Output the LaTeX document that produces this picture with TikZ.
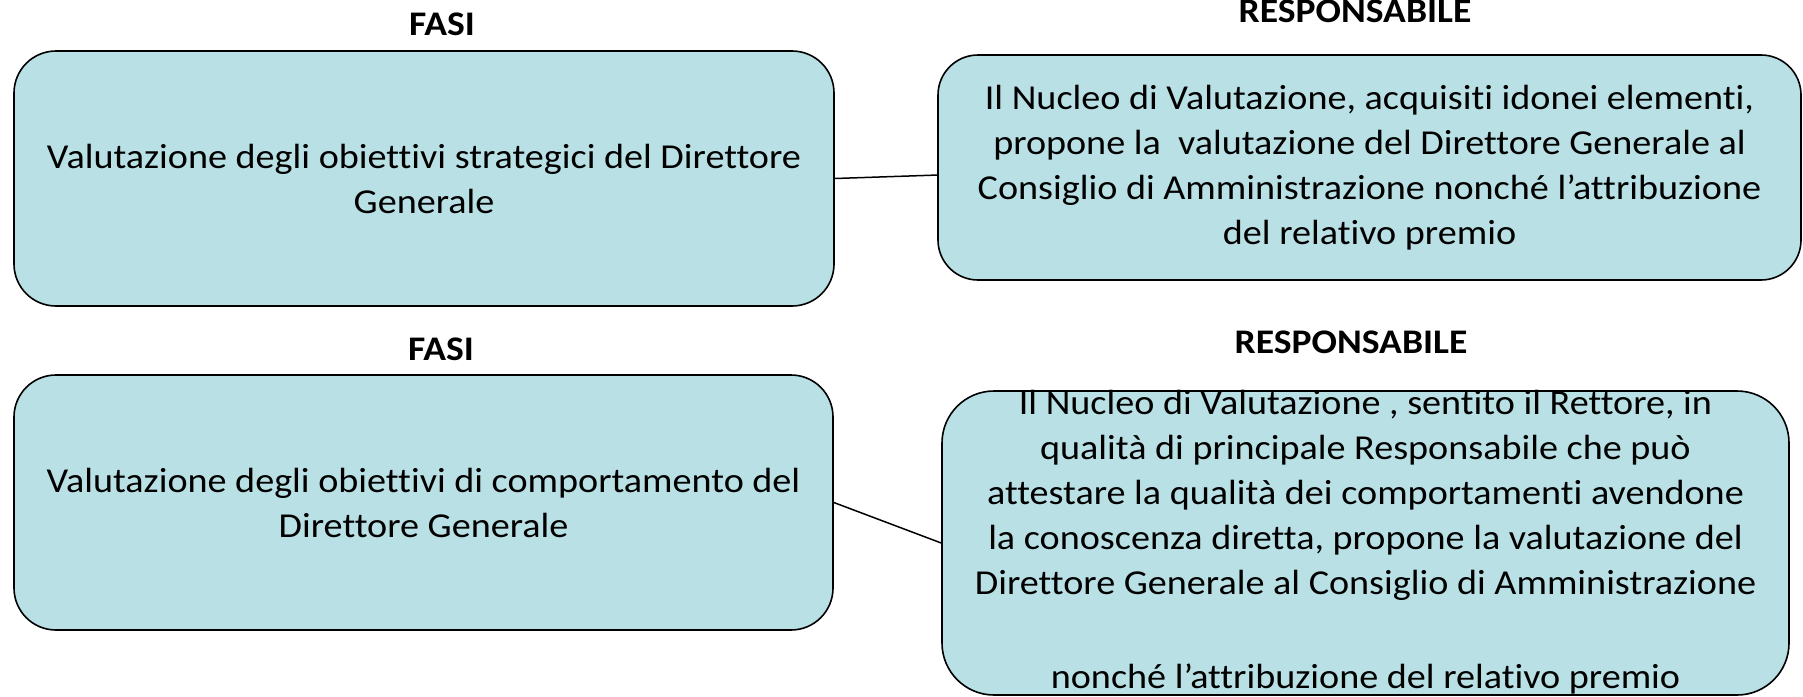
\documentclass[tikz,border=0pt]{standalone}
\usepackage{fontspec}
\setmainfont{Carlito}[Ligatures=NoCommon, FakeStretch=1.09]
\usepackage{xcolor}
\usetikzlibrary{shapes,positioning,calc}
\definecolor{boxfill}{RGB}{185,224,228}

\begin{document}
\begin{tikzpicture}[x=1pt,y=-1pt]
  \tikzstyle{fase}=[rectangle, draw, line width=1.6pt, fill=boxfill, rounded corners=42pt, align=center, inner sep=0pt, font=\fontsize{35}{45}\selectfont]
  \tikzstyle{resp}=[fase, rounded corners=40pt]
  \tikzstyle{head}=[anchor=base, inner sep=0pt, font=\fontsize{34.5}{40}\selectfont\bfseries]
  \tikzstyle{txt}=[align=center, inner sep=0pt, font=\fontsize{35}{45}\selectfont]
  \useasboundingbox (0,0) rectangle (1803,696);

  % Intestazioni
  \node[head] (h1) at (442,35) {FASI};
  \node[head] (h2) at (1355,23) {RESPONSABILE};
  \node[head] (h3) at (441,360) {FASI};
  \node[head] (h4) at (1351,353) {RESPONSABILE};

  % Fasi
  \node[fase, minimum width=820pt, minimum height=255pt] (f1) at (424,178.5)
    {Valutazione degli obiettivi strategici del Direttore\\Generale};
  \node[fase, minimum width=819pt, minimum height=255pt] (f2) at (423.5,502.5)
    {Valutazione degli obiettivi di comportamento del\\Direttore Generale};

  % Responsabili
  \node[resp, minimum width=863pt, minimum height=225pt] (r1) at (1369.5,167.5)
    {Il Nucleo di Valutazione, acquisiti idonei elementi,\\propone la~ valutazione del Direttore Generale al\\Consiglio di Amministrazione nonché l’attribuzione\\del relativo premio};
  \node[resp, rounded corners=52pt, minimum width=847pt, minimum height=304pt] (r2) at (1365.5,543) {};
  \node[txt] (t2) at (1365.5,542)
    {Il Nucleo di Valutazione , sentito il Rettore, in\\qualità di principale Responsabile che può\\attestare la qualità dei comportamenti avendone\\la conoscenza diretta, propone la valutazione del\\Direttore Generale al Consiglio di Amministrazione\\[49pt]nonché l’attribuzione del relativo premio};

  % Collegamenti
  \draw[line width=1.5pt] (f1.east) -- (r1.181);
  \draw[line width=1.5pt] (f2.east) -- (r2.west);
\end{tikzpicture}
\end{document}
